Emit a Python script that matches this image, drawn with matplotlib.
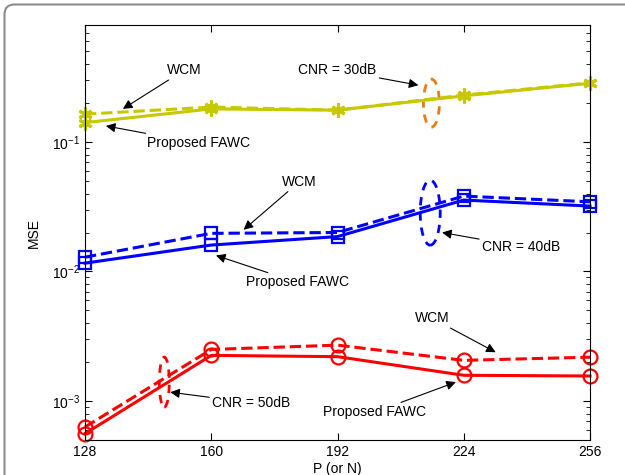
import matplotlib
matplotlib.use("Agg")
import matplotlib.pyplot as plt
from matplotlib.patches import Ellipse, FancyBboxPatch

plt.rcParams['font.family'] = ['Liberation Sans', 'DejaVu Sans']
plt.rcParams['mathtext.fontset'] = 'custom'
plt.rcParams['mathtext.rm'] = 'Liberation Sans'
plt.rcParams['mathtext.it'] = 'Liberation Sans:italic'

P = [128, 160, 192, 224, 256]

# CNR = 30 dB
fawc_30 = [0.141, 0.180, 0.176, 0.227, 0.284]
wcm_30 = [0.164, 0.186, 0.176, 0.230, 0.286]
# CNR = 40 dB
fawc_40 = [0.0116, 0.0160, 0.0186, 0.0356, 0.0320]
wcm_40 = [0.0129, 0.0197, 0.0200, 0.0382, 0.0345]
# CNR = 50 dB
fawc_50 = [5.6e-4, 2.25e-3, 2.2e-3, 1.58e-3, 1.56e-3]
wcm_50 = [6.3e-4, 2.5e-3, 2.7e-3, 2.06e-3, 2.18e-3]

yellow = '#c8c800'
blue = '#0000ff'
red = '#ff0000'
orange = '#e87d14'

fig = plt.figure(figsize=(6.25, 4.75), dpi=100)
ax = fig.add_axes([85 / 625, 35 / 475, 505 / 625, 415 / 475])

# page frame
frame = FancyBboxPatch((4.5, -40), 640, 510.5, boxstyle='round,pad=0,rounding_size=10',
                       transform=None, fill=False, ec='#8c8c8c', lw=1.5)
fig.patches.append(frame)

lw = 2.2
star = (6, 2, 0)
ax.semilogy(P, wcm_30, '--', marker=star, color=yellow, lw=lw, ms=10, mew=2.2, clip_on=False)
ax.semilogy(P, fawc_30, '-', marker=star, color=yellow, lw=lw, ms=10, mew=2.2, clip_on=False)
ax.semilogy(P, wcm_40, '--s', color=blue, lw=lw, ms=9, mew=1.6, mfc='none', clip_on=False)
ax.semilogy(P, fawc_40, '-s', color=blue, lw=lw, ms=9, mew=1.6, mfc='none', clip_on=False)
ax.semilogy(P, wcm_50, '--o', color=red, lw=lw, ms=10, mew=1.6, mfc='none', clip_on=False)
ax.semilogy(P, fawc_50, '-o', color=red, lw=lw, ms=10, mew=1.6, mfc='none', clip_on=False)

ax.set_xlim(128, 256)
ax.set_ylim(5e-4, 0.8)
ax.set_xticks(P)
ax.tick_params(which='both', direction='in', top=True, right=True, labelsize=10)
ax.tick_params(which='major', length=5)
ax.tick_params(which='minor', length=3)
ax.set_xlabel('P (or N)', fontsize=10, labelpad=2)
ax.set_ylabel('MSE', fontsize=10, labelpad=8)

arrow = dict(arrowstyle='-|>', color='k', lw=0.8, mutation_scale=14, shrinkA=0, shrinkB=0)
fs = 10

def note(text, head, pos, ha='center'):
    ax.annotate(text, xy=head, xytext=pos, ha=ha, va='center', fontsize=fs,
                arrowprops=arrow)

note('WCM', (137.6, 0.18), (153.1, 0.358))
note('Proposed FAWC', (133.3, 0.133), (143.6, 0.098), ha='left')
note('CNR = 30dB', (212.5, 0.2745), (201.9, 0.358), ha='right')

note('WCM', (168.2, 0.021), (182.3, 0.0492))
note('Proposed FAWC', (161.2, 0.0133), (181.8, 0.00823))
note('CNR = 40dB', (218.5, 0.0200), (228.6, 0.01557), ha='left')

note('WCM', (232.1, 0.00238), (216.0, 0.00435))
note('Proposed FAWC', (222.0, 0.0014), (201.4, 0.00082))
note('CNR = 50dB', (149.6, 0.00117), (160.2, 0.00097), ha='left')

# dashed ellipses grouping each CNR pair
def ring(x, y, w, h, color):
    cx, cy = ax.transAxes.inverted().transform(ax.transData.transform((x, y)))
    ax.add_patch(Ellipse((cx, cy), w / 505, h / 415, transform=ax.transAxes,
                         fill=False, ec=color, lw=2, ls=(0, (3, 2.5))))

ring(215.8, 0.1995, 16, 48, orange)
ring(215.5, 0.02845, 20, 65, blue)
ring(148.1, 0.0014, 10, 50, red)

fig.savefig('out.png', dpi=100)
